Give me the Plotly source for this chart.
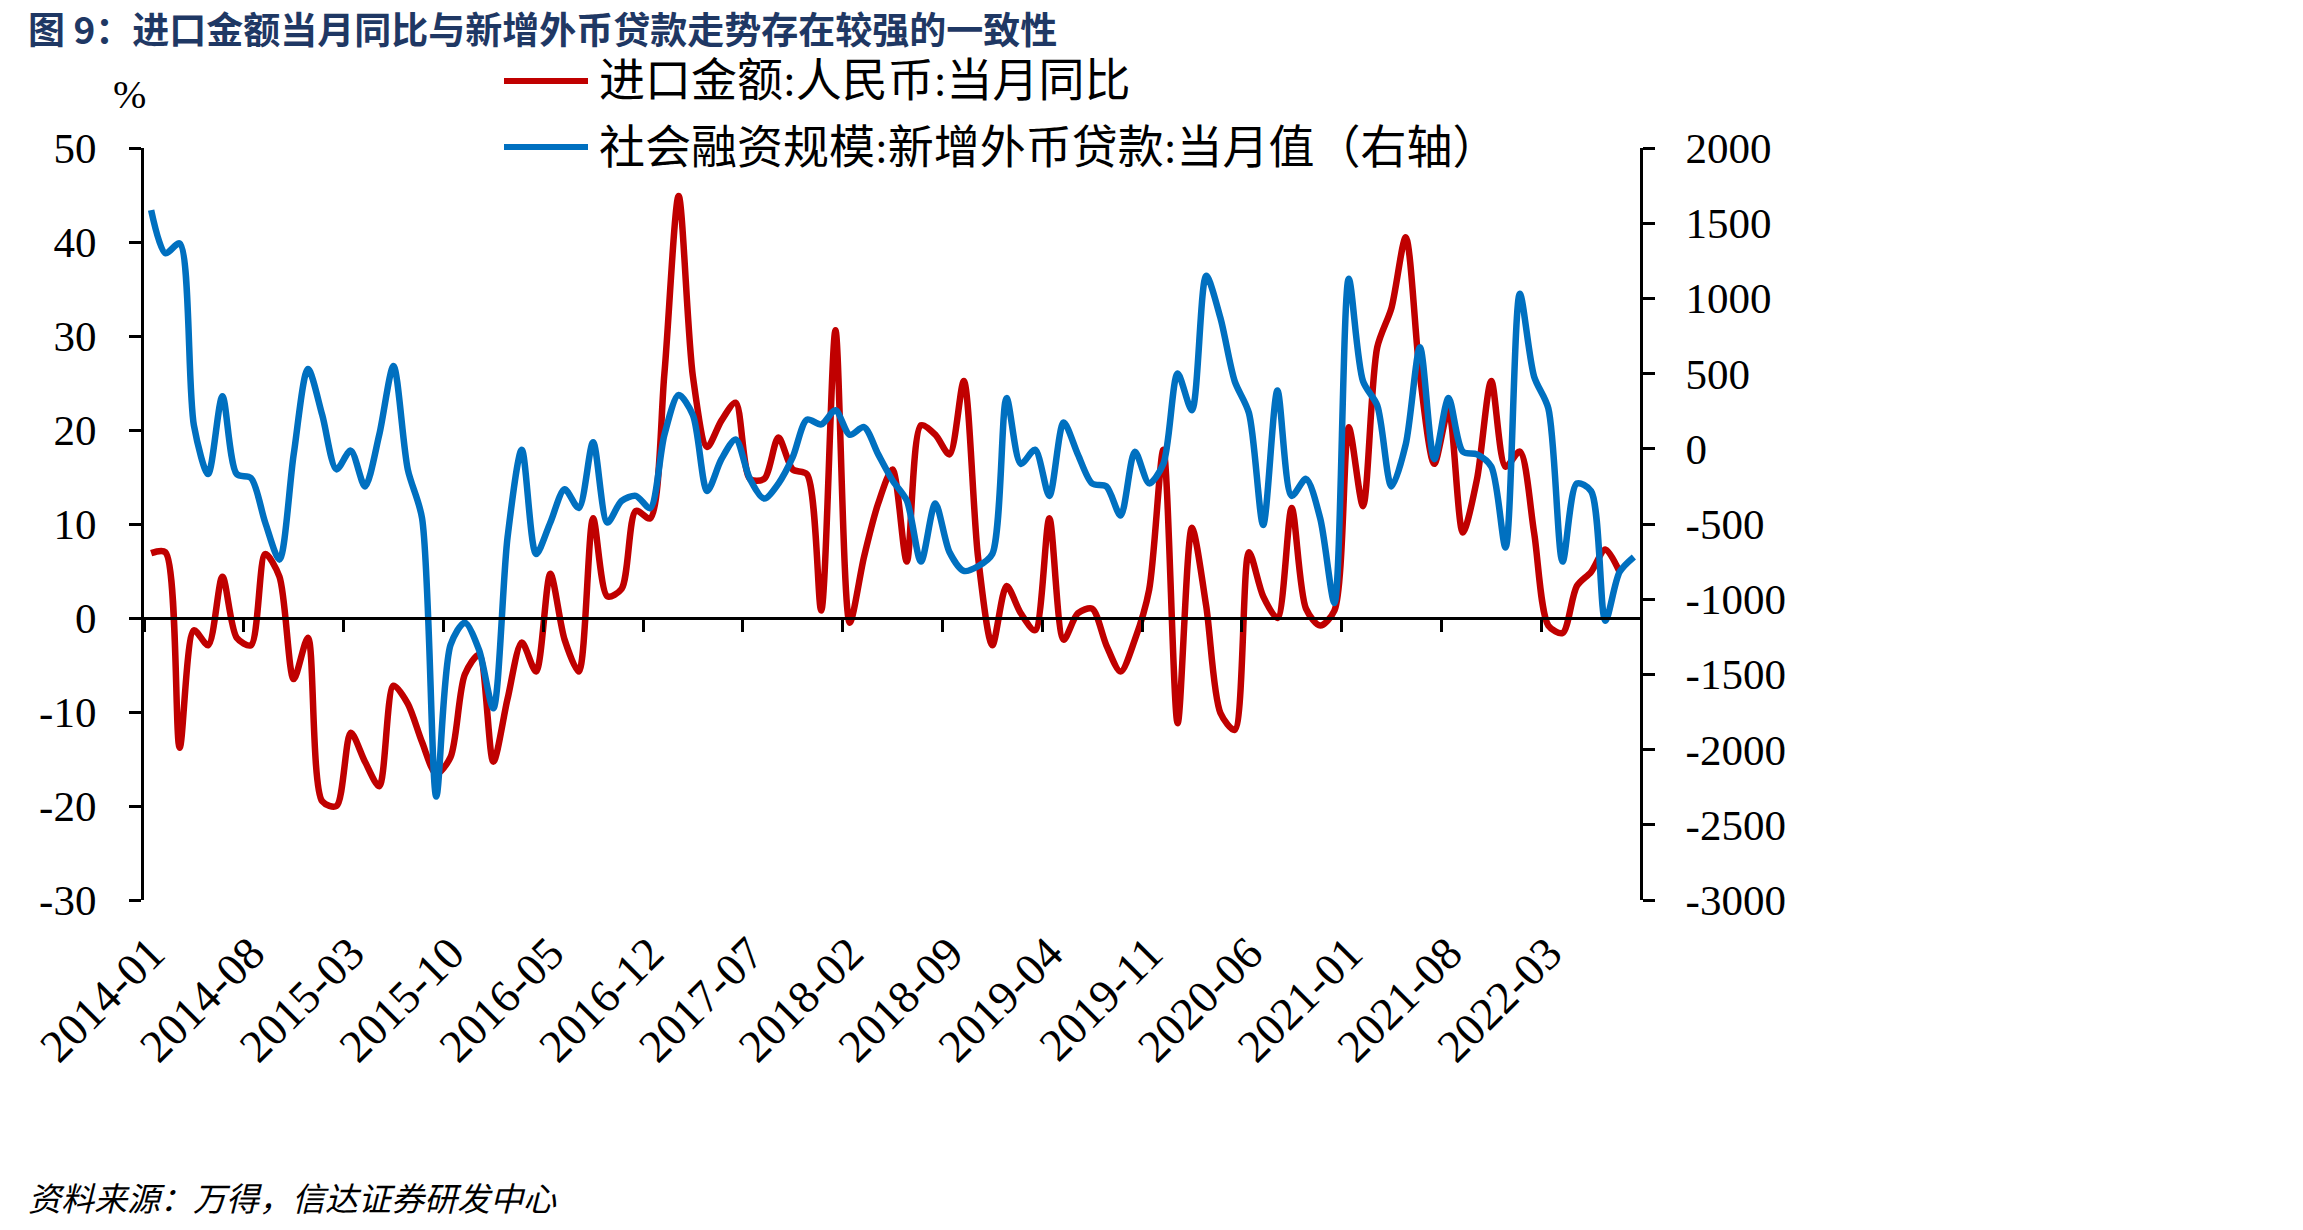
import pandas as pd
import plotly.graph_objects as go

# ---------------- data ----------------
months = pd.period_range("2014-01", "2022-09", freq="M").strftime("%Y-%m").tolist()

tick_labels = ["2014-01", "2014-08", "2015-03", "2015-10", "2016-05", "2016-12", "2017-07",
               "2018-02", "2018-09", "2019-04", "2019-11", "2020-06", "2021-01", "2021-08", "2022-03"]

left_ticks = [-30, -20, -10, 0, 10, 20, 30, 40, 50]
right_ticks = [-3000, -2500, -2000, -1500, -1000, -500, 0, 500, 1000, 1500, 2000]

# 进口金额:人民币:当月同比 (%), 2014-01 .. 2022-08
import_yoy = [6.9, 7.0, -13.8, -1.3, -2.9, 4.4, -2.1, -2.9, 6.8, 4.4, -6.5, -2.1,
              -19.5, -20.0, -12.2, -15.3, -17.9, -7.2, -9.1, -13.2, -16.6, -14.8, -6.0, -3.9,
              -15.3, -8.6, -2.6, -5.7, 4.7, -2.3, -5.7, 10.6, 2.3, 3.1, 11.4, 10.6,
              26.0, 44.9, 25.7, 18.2, 21.0, 22.9, 14.8, 14.8, 19.2, 15.8, 15.3, 0.8,
              30.6, -0.5, 6.5, 12.2, 15.8, 6.0, 20.5, 19.5, 17.4, 25.2, 6.5, -2.9,
              3.4, 0.5, -1.3, 10.6, -2.3, 0.5, 1.0, -2.9, -5.7, -2.3, 3.0, 17.9,
              -11.2, 9.6, 1.3, -10.1, -11.9, 7.0, 2.3, 0.0, 11.7, 1.0, -0.8, 0.8,
              20.3, 11.9, 28.8, 33.0, 40.5, 25.7, 16.4, 22.1, 9.1, 14.8, 25.2, 16.1,
              17.7, 9.1, -0.8, -1.6, 3.4, 4.9, 7.3, 4.9]

# 社会融资规模:新增外币贷款:当月值 (亿元), 2014-01 .. 2022-09
fx_loans = [1587, 1300, 1365, 156, -168, 350, -168, -194, -490, -737, -37, 531,
            225, -137, -12, -250, 93, 550, -137, -460, -2312, -1304, -1156, -1337,
            -1725, -588, -6, -700, -490, -269, -394, 44, -490, -346, -313, -394,
            93, 358, 225, -281, -69, 62, -200, -331, -231, -56, 194, 162,
            256, 93, 144, -37, -210, -344, -750, -363, -688, -812, -781, -700,
            337, -100, -6, -313, 175, -37, -231, -250, -444, -19, -230, -100,
            500, 256, 1150, 870, 450, 238, -506, 387, -313, -200, -463, -1025,
            1131, 450, 288, -250, 30, 675, -69, 337, -19, -37, -119, -656,
            1031, 481, 269, -750, -231, -281, -1144, -819, -719]

series_names = ["进口金额:人民币:当月同比", "社会融资规模:新增外币贷款:当月值（右轴）"]
series_colors = ["#C00000", "#0070C0"]

title_text = "图 9：进口金额当月同比与新增外币贷款走势存在较强的一致性"
source_text = "资料来源：万得，信达证券研发中心"

# ---------------- geometry ----------------
W, H = 2303, 1230
L, R, T, B = 144, 1641, 148, 900   # plot area in pixels
pw, ph = R - L, B - T


def px(x):
    return (x - L) / pw


def py(y):
    return (B - y) / ph


FONT = "Liberation Serif, 'Noto Sans CJK SC', serif"
CJK = "'Noto Sans CJK SC', sans-serif"

fig = go.Figure()
fig.add_trace(go.Scatter(x=months[:len(import_yoy)], y=import_yoy, mode="lines",
                         line=dict(color=series_colors[0], width=6.5, shape="spline", smoothing=0.8),
                         name=series_names[0], xaxis="x", yaxis="y", showlegend=False))
fig.add_trace(go.Scatter(x=months, y=fx_loans, mode="lines",
                         line=dict(color=series_colors[1], width=6.5, shape="spline", smoothing=0.8),
                         name=series_names[1], xaxis="x2", yaxis="y2", showlegend=False))

n = len(months)
boundary_ticks = [-0.5 + 7 * k for k in range(n // 7 + 1)]

axis_common = dict(showgrid=False, zeroline=False, color="black")

fig.update_layout(
    width=W, height=H, autosize=False,
    margin=dict(l=L, r=W - R, t=T, b=H - B, pad=0),
    paper_bgcolor="white", plot_bgcolor="white",
    showlegend=False,
    xaxis=dict(type="category", range=[-0.5, n - 0.5], domain=[0, 1],
               tickmode="array", tickvals=tick_labels, ticktext=tick_labels,
               tickangle=-45, ticks="", showline=False,
               tickfont=dict(family=FONT, size=46, color="black"),
               ticklabelstandoff=16, **axis_common),
    xaxis2=dict(type="category", overlaying="x", matches="x", anchor="free", position=0.375,
                range=[-0.5, n - 0.5], domain=[0, 1],
                showline=True, linewidth=3, linecolor="black",
                tickmode="array", tickvals=boundary_ticks, ticks="outside", ticklen=12,
                tickwidth=3, tickcolor="black", showticklabels=False, **axis_common),
    yaxis=dict(range=[-30, 50], domain=[0, 1],
               tickmode="array", tickvals=left_ticks, ticktext=[str(v) for v in left_ticks],
               showline=True, linewidth=3, linecolor="black",
               ticks="outside", ticklen=12, tickwidth=3, tickcolor="black",
               tickfont=dict(family=FONT, size=43, color="black"),
               ticklabelstandoff=24, **axis_common),
    yaxis2=dict(range=[-3000, 2000], overlaying="y", side="right",
                tickmode="array", tickvals=right_ticks, ticktext=[str(v) for v in right_ticks],
                anchor="free", position=1.0,
                showline=True, linewidth=3, linecolor="black",
                ticks="outside", ticklen=12, tickwidth=3, tickcolor="black",
                tickfont=dict(family=FONT, size=43, color="black"),
                ticklabelstandoff=22, **axis_common),
)

# legend (drawn manually to match the long line samples)
leg_y = [81, 147]
for name, color, yy in zip(series_names, series_colors, leg_y):
    fig.add_shape(type="line", xref="paper", yref="paper",
                  x0=px(504), x1=px(588), y0=py(yy), y1=py(yy),
                  line=dict(color=color, width=6))
    fig.add_annotation(xref="paper", yref="paper", x=px(597), y=py(yy),
                       xanchor="left", yanchor="middle", showarrow=False,
                       text=name, font=dict(family=FONT, size=46, color="black"))

# unit label
fig.add_annotation(xref="paper", yref="paper", x=px(129), y=py(95),
                   xanchor="center", yanchor="middle", showarrow=False,
                   text="%", font=dict(family=FONT, size=40, color="black"))

# title
fig.add_annotation(xref="paper", yref="paper", x=px(26), y=py(28),
                   xanchor="left", yanchor="middle", showarrow=False,
                   text="<b>" + title_text + "</b>",
                   font=dict(family=CJK, size=37, color="#1F3864"))

# source
fig.add_annotation(xref="paper", yref="paper", x=px(26), y=py(1197),
                   xanchor="left", yanchor="middle", showarrow=False,
                   text=source_text,
                   font=dict(family=CJK, size=33, color="black", style="italic"))

fig.write_html("out.html")
